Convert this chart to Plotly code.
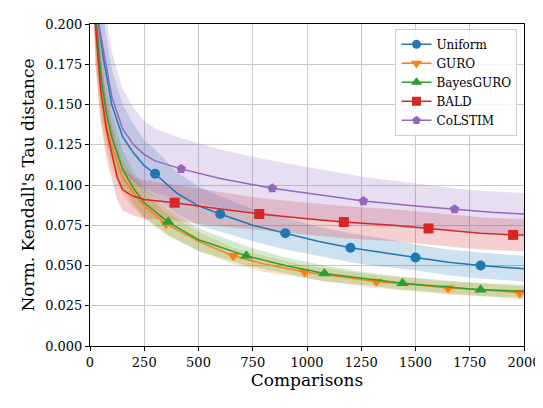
import plotly.graph_objects as go

names = ["Uniform", "GURO", "BayesGURO", "BALD", "CoLSTIM"]
colors = ["#1f77b4", "#ff7f0e", "#2ca02c", "#d62728", "#9467bd"]
fills = ["rgba(31,119,180,0.22)", "rgba(255,127,14,0.22)", "rgba(44,160,44,0.22)",
         "rgba(214,39,40,0.22)", "rgba(148,103,189,0.22)"]
symbols = ["circle", "triangle-down", "triangle-up", "square", "pentagon"]
msizes = [10, 11, 11, 10, 10]

x_uni = [20, 40, 60, 100, 150, 200, 250, 300, 400, 500, 600, 750, 900, 1050, 1200, 1350, 1500, 1650, 1800, 2000]
y_uni = [0.24, 0.20, 0.180, 0.150, 0.130, 0.120, 0.112, 0.107, 0.095, 0.087, 0.082, 0.075, 0.070, 0.065, 0.061, 0.058, 0.055, 0.052, 0.050, 0.048]
w_uni = [0.04, 0.03, 0.025, 0.022, 0.02, 0.018, 0.016, 0.015, 0.013, 0.012, 0.011, 0.010, 0.010, 0.009, 0.009, 0.009, 0.008, 0.008, 0.008, 0.008]
m_uni = [300, 600, 900, 1200, 1500, 1800]

x_guro = [15, 25, 50, 75, 100, 150, 200, 250, 350, 500, 660, 800, 990, 1150, 1320, 1500, 1650, 1800, 1980, 2000]
y_guro = [0.24, 0.20, 0.160, 0.138, 0.124, 0.105, 0.095, 0.087, 0.076, 0.065, 0.056, 0.051, 0.046, 0.043, 0.040, 0.038, 0.036, 0.035, 0.033, 0.033]
w_guro = [0.03, 0.025, 0.02, 0.016, 0.014, 0.011, 0.009, 0.008, 0.007, 0.006, 0.005, 0.005, 0.004, 0.004, 0.004, 0.004, 0.004, 0.004, 0.004, 0.004]
m_guro = [350, 660, 990, 1320, 1650, 1980]

x_bg = [15, 30, 50, 75, 100, 150, 200, 250, 360, 500, 720, 900, 1080, 1260, 1440, 1620, 1800, 2000]
y_bg = [0.24, 0.20, 0.168, 0.145, 0.130, 0.110, 0.098, 0.089, 0.077, 0.066, 0.056, 0.050, 0.045, 0.042, 0.039, 0.037, 0.035, 0.034]
w_bg = [0.03, 0.025, 0.02, 0.017, 0.015, 0.012, 0.010, 0.009, 0.008, 0.007, 0.006, 0.005, 0.005, 0.004, 0.004, 0.004, 0.004, 0.004]
m_bg = [360, 720, 1080, 1440, 1800]

x_bald = [15, 25, 50, 75, 100, 125, 150, 200, 250, 390, 550, 780, 1000, 1170, 1400, 1560, 1800, 1950, 2000]
y_bald = [0.24, 0.20, 0.158, 0.135, 0.120, 0.105, 0.097, 0.093, 0.091, 0.089, 0.086, 0.082, 0.079, 0.077, 0.075, 0.073, 0.070, 0.069, 0.069]
w_bald = [0.03, 0.025, 0.02, 0.018, 0.016, 0.014, 0.013, 0.012, 0.012, 0.011, 0.011, 0.010, 0.010, 0.010, 0.010, 0.010, 0.010, 0.010, 0.010]
m_bald = [390, 780, 1170, 1560, 1950]

x_col = [20, 40, 60, 100, 150, 200, 250, 300, 420, 600, 840, 1050, 1260, 1500, 1680, 1850, 2000]
y_col = [0.24, 0.20, 0.185, 0.155, 0.135, 0.125, 0.119, 0.115, 0.110, 0.104, 0.098, 0.094, 0.090, 0.087, 0.085, 0.083, 0.082]
w_col = [0.04, 0.035, 0.032, 0.028, 0.025, 0.023, 0.021, 0.020, 0.019, 0.018, 0.017, 0.016, 0.015, 0.014, 0.013, 0.013, 0.013]
m_col = [420, 840, 1260, 1680]

series = [(x_uni, y_uni, w_uni, m_uni), (x_guro, y_guro, w_guro, m_guro), (x_bg, y_bg, w_bg, m_bg),
          (x_bald, y_bald, w_bald, m_bald), (x_col, y_col, w_col, m_col)]

fig = go.Figure()
for (xs, ys, ws, ms), fc in zip(series, fills):
    up = [y + w for y, w in zip(ys, ws)]
    lo = [y - w for y, w in zip(ys, ws)]
    fig.add_trace(go.Scatter(x=xs + xs[::-1], y=up + lo[::-1], fill="toself", fillcolor=fc,
                             line=dict(width=0), mode="lines", showlegend=False, hoverinfo="skip"))
for (xs, ys, ws, ms), name, col, sym, ms_ in zip(series, names, colors, symbols, msizes):
    fig.add_trace(go.Scatter(x=xs, y=ys, mode="lines", showlegend=False,
                             line=dict(color=col, width=1.5)))
    my = [y for x, y in zip(xs, ys) if x in ms]
    fig.add_trace(go.Scatter(x=ms, y=my, mode="lines+markers", name=name,
                             line=dict(color=col, width=0),
                             marker=dict(symbol=sym, size=ms_, color=col, line=dict(width=0))))

axis = dict(showgrid=True, gridcolor="#c8c8c8", gridwidth=1, showline=True, linecolor="black",
            mirror=True, ticks="outside", ticklen=4, tickcolor="black", zeroline=False,
            automargin=False, tickfont=dict(size=13))
fig.update_layout(
    width=543, height=408, template="none",
    font=dict(family="DejaVu Serif", size=14, color="black"),
    margin=dict(l=82, r=27, t=16, b=70),
    plot_bgcolor="white", paper_bgcolor="white",
    xaxis=dict(axis, range=[0, 2000], dtick=250, title=dict(text="Comparisons", standoff=2)),
    yaxis=dict(axis, range=[0, 0.2], dtick=0.025, tickformat=".3f",
               title=dict(text="Norm. Kendall's Tau distance", standoff=6)),
    legend=dict(x=0.985, y=0.985, xanchor="right", yanchor="top", bgcolor="rgba(255,255,255,0.85)",
                bordercolor="#cccccc", borderwidth=1, font=dict(size=12)),
)
# legend entries need a line sample: draw them with lines via legend-only traces
for d in fig.data:
    if d.name in names:
        d.line.width = 1.5
        d.x = list(d.x)
        d.mode = "markers"
for name, col, sym, ms_ in zip(names, colors, symbols, msizes):
    pass
fig.update_traces(selector=dict(mode="markers"), showlegend=False)
for name, col, sym, ms_ in zip(names, colors, symbols, msizes):
    fig.add_trace(go.Scatter(x=[None], y=[None], mode="lines+markers", name=name,
                             line=dict(color=col, width=1.5),
                             marker=dict(symbol=sym, size=ms_ - 1, color=col)))
fig.write_html("out.html")
